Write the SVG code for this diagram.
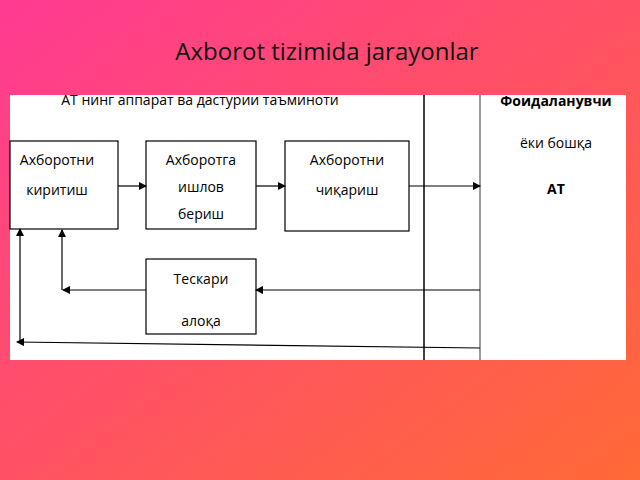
<svg xmlns="http://www.w3.org/2000/svg" width="640" height="480" viewBox="0 0 640 480">
<defs>
<linearGradient id="bg" x1="0" y1="0" x2="1" y2="1"><stop offset="0" stop-color="#ff3a92"/><stop offset="1" stop-color="#ff6a36"/></linearGradient>
<marker id="a" markerWidth="8" markerHeight="8" refX="7" refY="4" orient="auto" markerUnits="userSpaceOnUse"><path d="M0,0 L8,4 L0,8 z" fill="#000"/></marker>
</defs>
<style>
.b{fill:#fff;stroke:#000;stroke-width:1.2}
.t{font-family:"Open Sans","Liberation Sans",sans-serif;font-size:14px;fill:#000;text-anchor:middle}
.c{fill:none;stroke:#000;stroke-width:1.2;marker-end:url(#a)}
</style>
<rect width="640" height="480" fill="url(#bg)"/>
<text x="327" y="60" font-family="Open Sans, Liberation Sans, sans-serif" font-size="24" fill="#111" text-anchor="middle">Axborot tizimida jarayonlar</text>
<rect x="10" y="95" width="616" height="265" fill="#fff"/>
<line x1="424" y1="95" x2="424" y2="360" stroke="#000" stroke-width="1.5"/>
<line x1="480" y1="95" x2="480" y2="360" stroke="#000" stroke-width="0.8"/>
<text class="t" x="200" y="105">АТ нинг аппарат ва дастурии таъминоти</text>
<g id="user"><text class="t" x="556" y="106" font-weight="bold">Фоидаланувчи</text><text class="t" x="556" y="148">ёки бошқа</text><text class="t" x="556" y="194" font-weight="bold" font-size="17">АТ</text></g>
<g id="n1"><rect class="b" x="10" y="141" width="108" height="88"/><text class="t" x="57" y="165">Ахборотни</text><text class="t" x="57" y="195">киритиш</text></g>
<g id="n2"><rect class="b" x="146" y="141" width="110" height="88"/><text class="t" x="201" y="165">Ахборотга</text><text class="t" x="201" y="192">ишлов</text><text class="t" x="201" y="219">бериш</text></g>
<g id="n3"><rect class="b" x="285" y="141" width="124" height="90"/><text class="t" x="347" y="165">Ахборотни</text><text class="t" x="347" y="195">чиқариш</text></g>
<g id="n4"><rect class="b" x="146" y="259" width="110" height="75"/><text class="t" x="201" y="284">Тескари</text><text class="t" x="201" y="326">алоқа</text></g>
<g id="connectors">
<path class="c" d="M118,186 H146"/>
<path class="c" d="M256,186 H285"/>
<path class="c" d="M409,186 H480"/>
<path class="c" d="M480,290 H256"/>
<path class="c" d="M146,290 H63"/>
<path class="c" d="M62,290 V230"/>
<path class="c" d="M20,342 V229"/>
<path class="c" d="M480,348 L17,342"/>
</g>
</svg>
